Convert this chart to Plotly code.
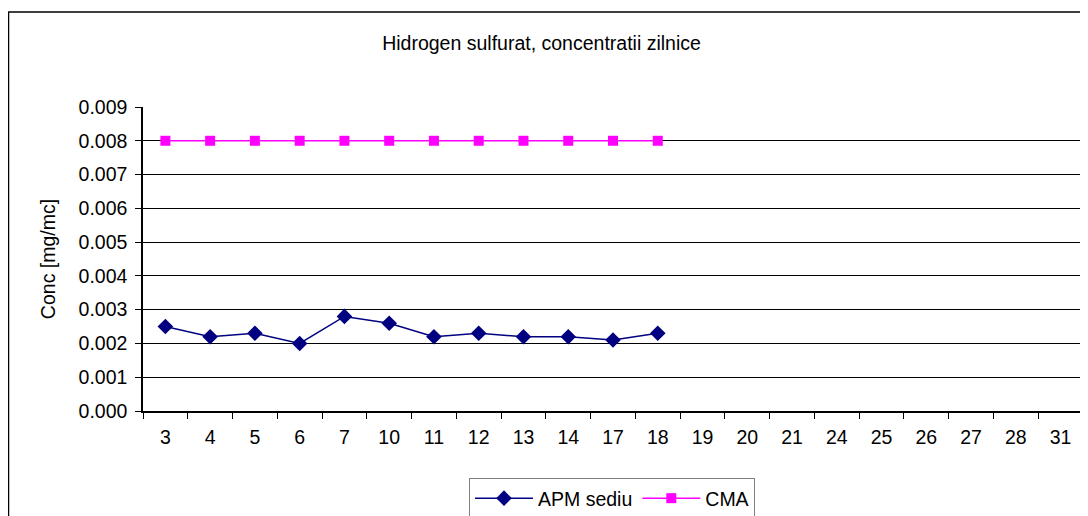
import plotly.graph_objects as go

categories = ["3", "4", "5", "6", "7", "10", "11", "12", "13", "14", "17", "18",
              "19", "20", "21", "24", "25", "26", "27", "28", "31"]
apm_sediu = [0.0025, 0.0022, 0.0023, 0.0020, 0.0028, 0.0026, 0.0022, 0.0023,
             0.0022, 0.0022, 0.0021, 0.0023]
cma = [0.008] * 12
y_ticks = [0.000, 0.001, 0.002, 0.003, 0.004, 0.005, 0.006, 0.007, 0.008, 0.009]

FONT = "Liberation Sans, Arial, sans-serif"
FS = 19.5
OFF = 8  # default page body margin
W, H = 1088 - OFF, 516 - OFF
# plot area in page pixels
L, R, T, B = 143, 1083, 107, 411


def px(xp):
    return (xp - L) / (R - L)


def py(yp):
    return (B - yp) / (B - T)


fig = go.Figure()
fig.add_trace(go.Scatter(
    x=categories[:len(apm_sediu)], y=apm_sediu, mode="lines+markers", name="APM sediu",
    line=dict(color="#000080", width=1.5),
    marker=dict(symbol="diamond", size=12, color="#000080"),
))
fig.add_trace(go.Scatter(
    x=categories[:len(cma)], y=cma, mode="lines+markers", name="CMA",
    line=dict(color="#FF00FF", width=1.5),
    marker=dict(symbol="square", size=10, color="#FF00FF"),
))

fig.update_layout(
    width=W, height=H,
    margin=dict(l=L - OFF, r=W - (R - OFF), t=T - OFF, b=H - (B - OFF), pad=0,
                autoexpand=False),
    paper_bgcolor="white", plot_bgcolor="white",
    font=dict(family=FONT, size=FS, color="black"),
    title=dict(text="Hidrogen sulfurat, concentratii zilnice",
               x=(541.5 - OFF) / W, xanchor="center",
               y=1 - (43 - OFF) / H, yanchor="middle",
               font=dict(size=FS, family=FONT, color="black")),
    showlegend=True,
    legend=dict(orientation="h", x=px(612), xanchor="center", y=py(478), yanchor="top",
                bordercolor="#808080", borderwidth=1, bgcolor="white",
                font=dict(size=FS, family=FONT), itemwidth=58),
    xaxis=dict(type="category", categoryorder="array", categoryarray=categories,
               range=[-0.5, len(categories) - 0.5], tickson="boundaries",
               ticks="outside", ticklen=6, tickcolor="black", showgrid=False,
               showline=True, linecolor="black", linewidth=1.5,
               tickfont=dict(size=FS), ticklabelstandoff=8, fixedrange=True),
    yaxis=dict(range=[0, 0.009], tickvals=y_ticks,
               ticktext=[f"{v:.3f}" for v in y_ticks],
               ticks="outside", ticklen=6, tickcolor="black",
               showgrid=True, gridcolor="black", gridwidth=1,
               showline=True, linecolor="black", linewidth=1.5,
               zeroline=False, tickfont=dict(size=FS), ticklabelstandoff=4,
               title=dict(text="Conc [mg/mc]", font=dict(size=FS), standoff=18)),
)

# plot area right edge (grey)
fig.add_shape(type="line", xref="paper", yref="paper", x0=1, x1=1, y0=0, y1=1,
              line=dict(color="#808080", width=1.5))
# outer chart border
fig.add_shape(type="rect", xref="paper", yref="paper",
              x0=px(8.5), x1=px(1086), y0=py(530), y1=py(12),
              line=dict(color="black", width=1.5), layer="below")

fig.write_html("out.html")
